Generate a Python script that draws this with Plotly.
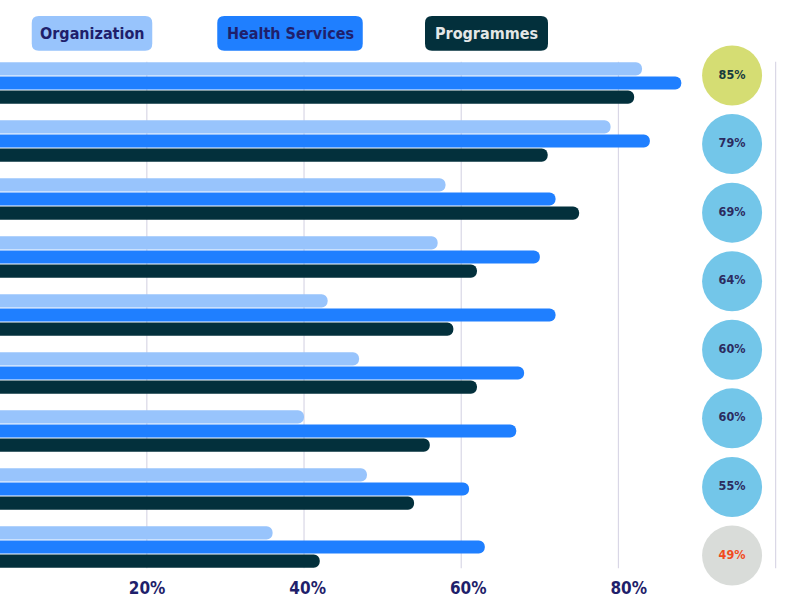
import plotly.graph_objects as go

# ---- data ----
rows = list(range(9))
organization = [83, 79, 58, 57, 43, 47, 40, 48, 36]
health_services = [88, 84, 72, 70, 72, 68, 67, 61, 63]
programmes = [82, 71, 75, 62, 59, 62, 56, 54, 42]
series_names = ["Organization", "Health Services", "Programmes"]
circle_values = [85, 79, 69, 64, 60, 60, 55, 49]
circle_labels = [f"{v}%" for v in circle_values]
tick_values = [20, 40, 60, 80]
tick_labels = ["20%", "40%", "60%", "80%"]
grid_values = [20, 40, 60, 80, 100]

# ---- styles ----
FONT = "Liberation Sans Narrow, DejaVu Sans Condensed, Arial Narrow, sans-serif"
NAVY = "#1f1f6b"
bar_colors = ["#98c4fc", "#1f7fff", "#03303c"]
legend_text_colors = [NAVY, NAVY, "#e3e7e7"]
circle_fill = ["#d5dd73"] + ["#73c6e9"] * 6 + ["#d9dcd9"]
circle_text = ["#173a3d"] + ["#2c2b5f"] * 6 + ["#f14b1e"]

W, H = 811, 606
M_T, M_B = 54, 30
plot_h = H - M_T - M_B

fig = go.Figure()
for name, vals, col in zip(series_names, [organization, health_services, programmes], bar_colors):
    fig.add_trace(go.Bar(
        y=rows, x=vals, orientation="h", name=name,
        marker=dict(color=col, line=dict(width=0), cornerradius="50%"),
        showlegend=False, hoverinfo="x",
    ))

# circles with values
circle_x = 92.87
fig.add_trace(go.Scatter(
    x=[circle_x] * len(circle_values), y=list(range(len(circle_values))),
    xaxis="x2", yaxis="y2", mode="markers+text", cliponaxis=False,
    marker=dict(size=60, color=circle_fill, line=dict(width=0)),
    text=circle_labels, textposition="middle center",
    textfont=dict(family=FONT, size=12.5, color=circle_text, weight=700),
    showlegend=False, hoverinfo="text",
))

# gridlines (span bar groups only)
half = 0.367
for g in grid_values:
    fig.add_shape(type="line", xref="x", yref="y", x0=g, x1=g,
                  y0=-half, y1=len(rows) - 1 + half,
                  line=dict(color="#d9d7e6", width=1.2), layer="below")

# legend boxes
legend_boxes = [(92, 120.5), (290, 145.5), (486.5, 123)]
box_h = 34.7
cy_px = 33.3
cy_paper = (H - M_B - cy_px) / plot_h
r = 7
for (cx, bw), col, tcol, name in zip(legend_boxes, bar_colors, legend_text_colors, series_names):
    x0, x1 = -bw / 2, bw / 2
    y0, y1 = -box_h / 2, box_h / 2
    path = (f"M{x0+r},{y0} L{x1-r},{y0} Q{x1},{y0} {x1},{y0+r} L{x1},{y1-r} "
            f"Q{x1},{y1} {x1-r},{y1} L{x0+r},{y1} Q{x0},{y1} {x0},{y1-r} "
            f"L{x0},{y0+r} Q{x0},{y0} {x0+r},{y0} Z")
    fig.add_shape(type="path", xref="paper", yref="paper",
                  xsizemode="pixel", ysizemode="pixel",
                  xanchor=cx / W, yanchor=cy_paper, path=path,
                  fillcolor=col, line=dict(width=0), layer="above")
    fig.add_annotation(x=cx / W, y=cy_paper, xref="paper", yref="paper",
                       text=name, showarrow=False, xanchor="center", yanchor="middle",
                       font=dict(family=FONT, size=16, color=tcol, weight=700))

fig.update_layout(
    width=W, height=H,
    margin=dict(l=0, r=0, t=M_T, b=M_B, pad=0),
    paper_bgcolor="white", plot_bgcolor="white",
    barmode="group", bargap=0.266, bargroupgap=0.07,
    xaxis=dict(range=[1.32, 104.5], showgrid=False, zeroline=False,
               showticklabels=False, ticks="", fixedrange=True),
    yaxis=dict(range=[8.5, -0.5], showgrid=False, zeroline=False,
               showticklabels=False, ticks="", fixedrange=True),
    xaxis2=dict(range=[1.68, 102.7], overlaying="x", anchor="y2", side="bottom",
                showgrid=False, zeroline=False, tickmode="array",
                tickvals=tick_values, ticktext=tick_labels, ticks="",
                tickfont=dict(family=FONT, size=17, color=NAVY, weight=700)),
    yaxis2=dict(range=[7.299, -0.3136], overlaying="y", anchor="x2",
                showgrid=False, zeroline=False, showticklabels=False, ticks=""),
    font=dict(family=FONT),
)

fig.write_html("out.html")
